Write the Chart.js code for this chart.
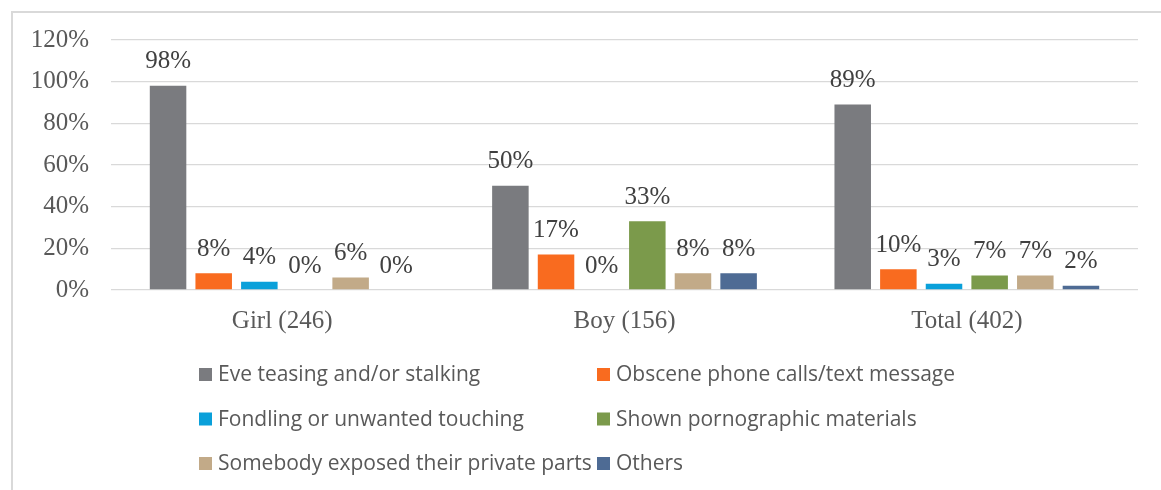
<!DOCTYPE html>
<html>
<head>
<meta charset="utf-8">
<script src="https://cdn.jsdelivr.net/npm/chart.js@4/dist/chart.umd.min.js"></script>
<style>
  html, body { margin: 0; padding: 0; background: #ffffff; }
  #wrap { width: 1161px; height: 490px; }
</style>
</head>
<body>
<div id="wrap"><canvas id="chart" width="1161" height="490"></canvas></div>
<script>
// Respondent groups along the x axis
const categories = ['Girl (246)', 'Boy (156)', 'Total (402)'];

// Share of respondents (%) per type of harassment
const seriesNames = [
  'Eve teasing and/or stalking',
  'Obscene phone calls/text message',
  'Fondling or unwanted touching',
  'Shown pornographic materials',
  'Somebody exposed their private parts',
  'Others'
];
const eveTeasing   = [98, 50, 89];
const obsceneCalls = [8, 17, 10];
const fondling     = [4, 0, 3];
const pornography  = [0, 33, 7];
const exposure     = [6, 8, 7];
const others       = [0, 8, 2];

// Y axis tick labels (percent)
const yTicks = [0, 20, 40, 60, 80, 100, 120];

const seriesColors = ['#7a7b7f', '#f96b1f', '#0aa0da', '#7b9a4b', '#c2aa88', '#4e6b94'];
const seriesValues = [eveTeasing, obsceneCalls, fondling, pornography, exposure, others];

const SERIF = '"Liberation Serif", serif';
const SANS = '"Open Sans", sans-serif';

// Frame lines along the top and left edges of the chart
const framePlugin = {
  id: 'frame',
  beforeDraw(chart) {
    const ctx = chart.ctx;
    ctx.save();
    ctx.fillStyle = '#ffffff';
    ctx.fillRect(0, 0, chart.width, chart.height);
    ctx.strokeStyle = '#d9d9d9';
    ctx.lineWidth = 2;
    ctx.beginPath();
    ctx.moveTo(chart.width, 12);
    ctx.lineTo(12, 12);
    ctx.lineTo(12, chart.height);
    ctx.stroke();
    ctx.restore();
  }
};

// Value labels above each bar
const valueLabelPlugin = {
  id: 'valueLabels',
  afterDatasetsDraw(chart) {
    const ctx = chart.ctx;
    ctx.save();
    ctx.font = '25px ' + SERIF;
    ctx.fillStyle = '#404040';
    ctx.textAlign = 'center';
    ctx.textBaseline = 'middle';
    chart.data.datasets.forEach((ds, i) => {
      const meta = chart.getDatasetMeta(i);
      meta.data.forEach((bar, j) => {
        ctx.fillText(ds.data[j] + '%', bar.x, bar.y - 24);
      });
    });
    ctx.restore();
  }
};

// Two-column legend below the x axis
const legendPlugin = {
  id: 'twoColumnLegend',
  afterDraw(chart) {
    const ctx = chart.ctx;
    const colX = [199, 597];
    const rowY = [374.5, 419, 463.5];
    const box = 13;
    ctx.save();
    ctx.font = '21px ' + SANS;
    ctx.textBaseline = 'middle';
    chart.data.datasets.forEach((ds, i) => {
      const x = colX[i % 2];
      const y = rowY[Math.floor(i / 2)];
      ctx.fillStyle = ds.backgroundColor;
      ctx.fillRect(x, y - box / 2, box, box);
      ctx.fillStyle = '#595959';
      ctx.fillText(ds.label, x + 19, y + 1);
    });
    ctx.restore();
  }
};

new Chart(document.getElementById('chart'), {
  type: 'bar',
  data: {
    labels: categories,
    datasets: seriesNames.map((name, i) => ({
      label: name,
      data: seriesValues[i],
      backgroundColor: seriesColors[i],
      borderWidth: 0,
      categoryPercentage: 0.8,
      barPercentage: 0.8
    }))
  },
  options: {
    responsive: false,
    animation: false,
    layout: { padding: { left: 11, right: 23, top: 40, bottom: 156 } },
    plugins: {
      legend: { display: false },
      tooltip: { enabled: false }
    },
    scales: {
      x: {
        grid: { display: false, drawTicks: false },
        border: { display: false },
        ticks: { color: '#595959', font: { family: SERIF, size: 25 }, padding: 16 },
        afterFit(scale) { scale.height = 44; }
      },
      y: {
        min: yTicks[0],
        max: yTicks[yTicks.length - 1],
        afterBuildTicks(scale) { scale.ticks = yTicks.map(v => ({ value: v })); },
        grid: { color: '#d9d9d9', lineWidth: 1.3, drawTicks: false },
        border: { display: false },
        ticks: {
          color: '#595959',
          font: { family: SERIF, size: 25 },
          padding: 22,
          callback: v => v + '%'
        },
        afterFit(scale) { scale.width = 100; }
      }
    }
  },
  plugins: [framePlugin, valueLabelPlugin, legendPlugin]
});
</script>
</body>
</html>
